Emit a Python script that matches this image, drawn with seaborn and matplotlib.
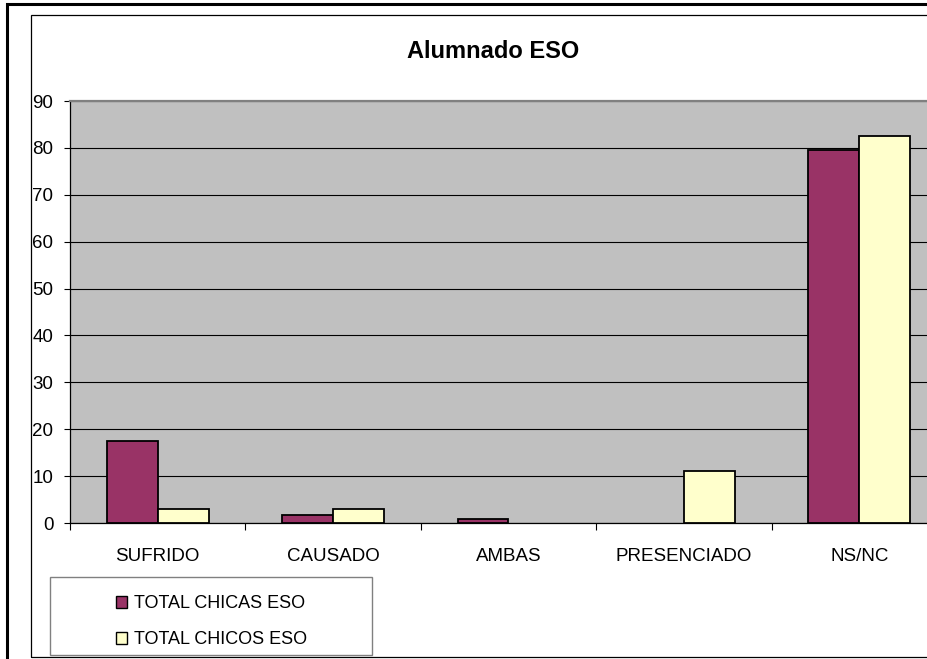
import pandas as pd
import matplotlib.pyplot as plt
import matplotlib.patches as mpatches
import seaborn as sns

# Data
categories = ["SUFRIDO", "CAUSADO", "AMBAS", "PRESENCIADO", "NS/NC"]
chicas = [17.4, 1.7, 0.9, 0.0, 79.5]
chicos = [3.0, 3.0, 0.0, 11.1, 82.6]
series_names = ["TOTAL CHICAS ESO", "TOTAL CHICOS ESO"]
y_ticks = [0, 10, 20, 30, 40, 50, 60, 70, 80, 90]

df = pd.DataFrame({
    "categoria": categories * 2,
    "valor": chicas + chicos,
    "serie": [series_names[0]] * len(categories) + [series_names[1]] * len(categories),
})
# empty cells in the sheet: no bar drawn
df["valor"] = df["valor"].where(df["valor"] > 0)

sns.set_style("white")
plt.rcParams["font.family"] = ["Liberation Sans", "DejaVu Sans"]
plt.rcParams["text.color"] = "black"

W, H = 928, 659
fig = plt.figure(figsize=(W / 100, H / 100), dpi=100)

def fx(px):
    return px / W

def fy(py):
    return 1 - py / H

# outer frames (image is cropped on the right)
fig.patches.append(mpatches.Rectangle((fx(7), fy(700)), fx(1000), fy(4) - fy(700),
                                      transform=fig.transFigure, fill=False,
                                      edgecolor="black", linewidth=2.2))
fig.patches.append(mpatches.Rectangle((fx(31), fy(657)), fx(1000), fy(15) - fy(657),
                                      transform=fig.transFigure, fill=False,
                                      edgecolor="black", linewidth=0.9))

# plot area
ax = fig.add_axes([fx(70), fy(523), fx(947 - 70), fy(101) - fy(523)])
ax.set_facecolor("#C0C0C0")

palette = {series_names[0]: "#993366", series_names[1]: "#FFFFCC"}
sns.barplot(data=df, x="categoria", y="valor", hue="serie", palette=palette,
            width=0.58, edgecolor="black", linewidth=1.3, saturation=1,
            ax=ax, zorder=3)

ax.set_ylim(0, 90)
ax.set_xlim(-0.5, len(categories) - 0.5)
ax.set_yticks(y_ticks)
ax.yaxis.grid(True, color="black", linewidth=0.8, zorder=0)
ax.set_axisbelow(True)
ax.set_xlabel("")
ax.set_ylabel("")

for s in ["left", "bottom"]:
    ax.spines[s].set_color("black")
    ax.spines[s].set_linewidth(0.9)
ax.spines["top"].set_color("#808080")
ax.spines["top"].set_linewidth(1.6)
ax.spines["right"].set_color("#808080")

ax.tick_params(axis="y", which="major", left=True, length=4, width=0.8,
               pad=8, labelsize=13.5, labelcolor="black", color="black")
ax.tick_params(axis="x", which="major", bottom=True, length=0, pad=18,
               labelsize=13.5, labelcolor="black")
ax.set_xticks([i - 0.5 for i in range(len(categories) + 1)], minor=True)
ax.tick_params(axis="x", which="minor", bottom=True, length=5, width=0.8,
               color="black")

# title
fig.text(fx(493), fy(52), "Alumnado ESO", ha="center", va="center",
         fontsize=17, fontweight="bold", color="black")

# legend: box drawn separately, entries placed inside
fig.patches.append(mpatches.Rectangle((fx(50), fy(655)), fx(322), fy(577) - fy(655),
                                      transform=fig.transFigure, fill=True,
                                      facecolor="white", edgecolor="#808080",
                                      linewidth=1.0, zorder=1))
handles = [mpatches.Patch(facecolor=palette[n], edgecolor="black", linewidth=1.0)
           for n in series_names]
ax.legend_.remove()
leg = fig.legend(handles, series_names, loc="upper left",
                 bbox_to_anchor=(fx(102), fy(581)), frameon=False,
                 fontsize=13, handlelength=0.6, handleheight=0.6,
                 handletextpad=0.4, labelspacing=1.05, borderpad=0.3)

fig.savefig("out.png", dpi=100)
